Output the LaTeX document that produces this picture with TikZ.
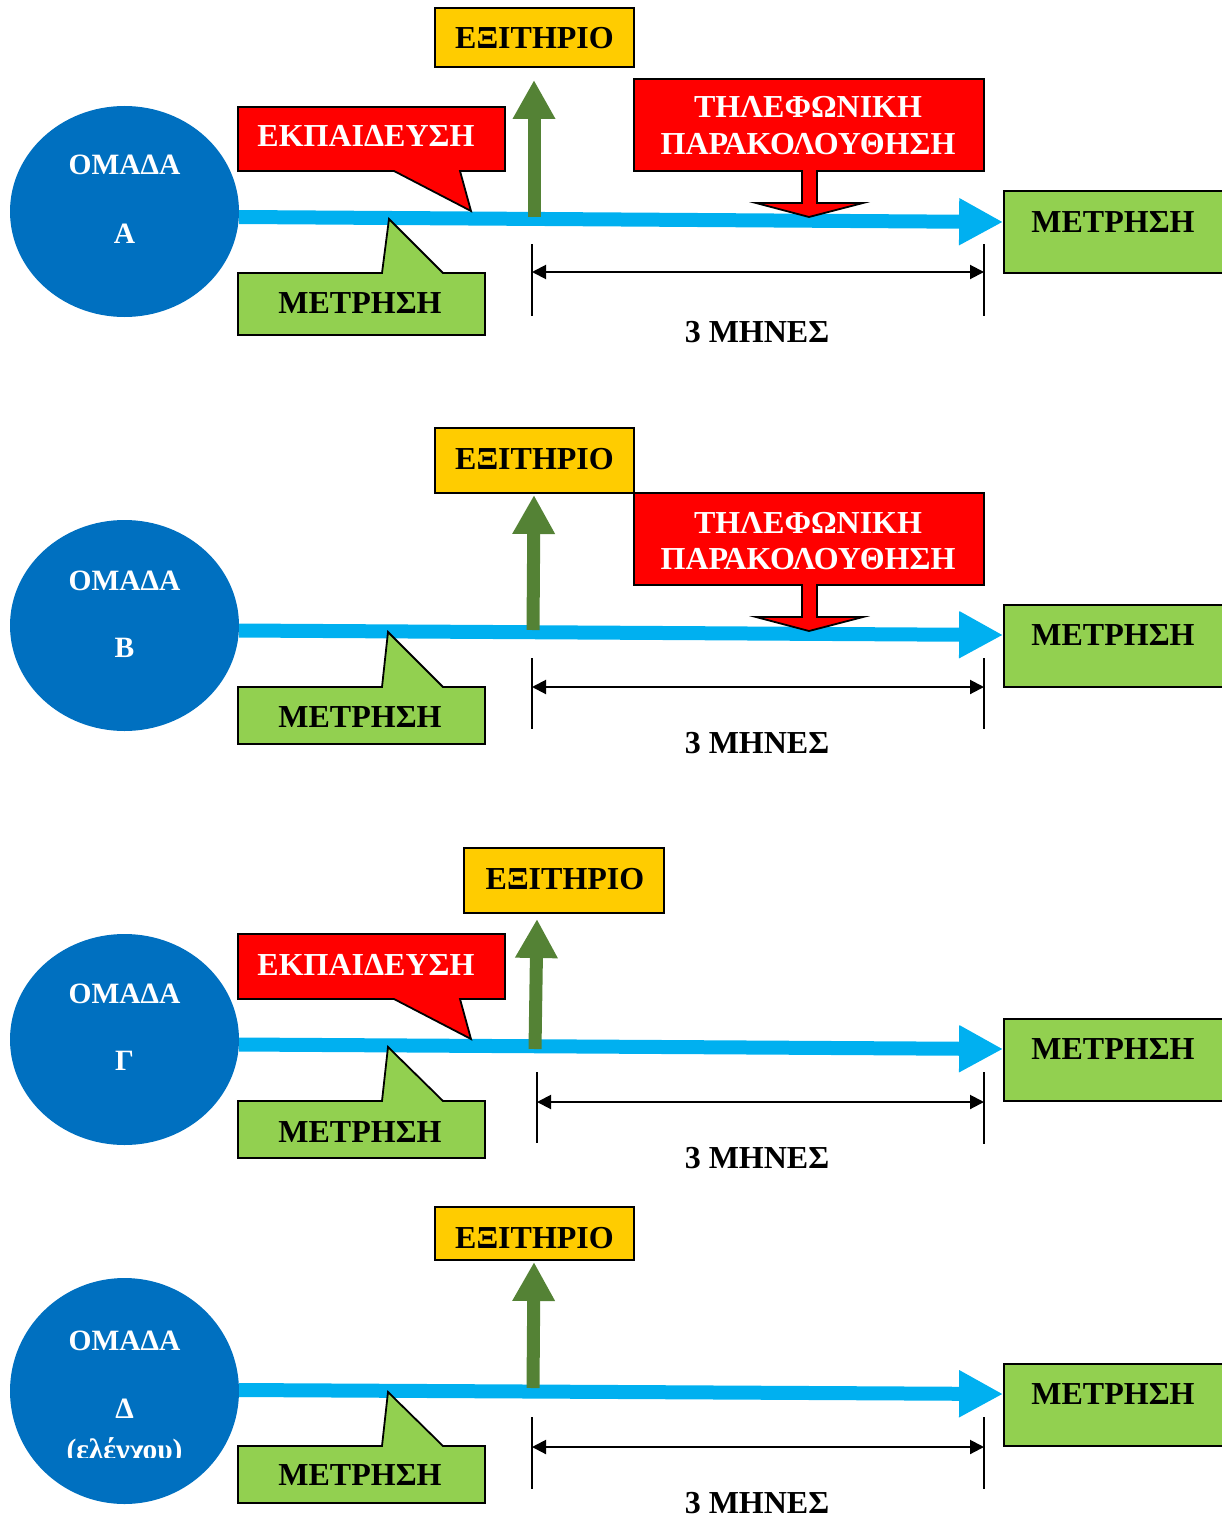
\documentclass[tikz,border=0pt]{standalone}
\usepackage{fontspec}
\setmainfont{Liberation Serif}
\usetikzlibrary{arrows.meta,shapes.geometric}
\definecolor{grpblue}{HTML}{0070C0}
\definecolor{flowblue}{HTML}{00B0F0}
\definecolor{exitgreen}{HTML}{548235}
\definecolor{boxgreen}{HTML}{92D050}
\definecolor{boxyellow}{HTML}{FFCC00}
\definecolor{boxred}{HTML}{FF0000}
\begin{document}
\begin{tikzpicture}[x=1pt,y=-1pt,
  group/.style={ellipse,fill=grpblue,inner sep=0pt,minimum width=229pt,minimum height=211pt},
  grptxt/.style={text=white,font=\fontsize{29.5}{35}\selectfont\bfseries,anchor=base,inner sep=0pt},
  bigtxt/.style={text=black,font=\fontsize{32}{38}\selectfont\bfseries,anchor=base,inner sep=0pt},
  whitetxt/.style={bigtxt,text=white},
  exitbox/.style={rectangle,draw=black,line width=1.8pt,fill=boxyellow,inner sep=0pt,minimum width=199pt},
  measbox/.style={rectangle,draw=black,line width=1.8pt,fill=boxgreen,inner sep=0pt,minimum width=220pt,minimum height=82pt},
  redcall/.style={draw=black,line width=1.8pt,fill=boxred,line join=miter},
  greencall/.style={draw=black,line width=1.8pt,fill=boxgreen,line join=miter},
  flow/.style={draw=flowblue,line width=14pt,-{Triangle[length=44pt,width=44pt]}},
  exitarrow/.style={draw=exitgreen,line width=13pt,-{Triangle[length=39pt,width=40pt]}},
  dimline/.style={draw=black,line width=2pt,{Triangle[length=14pt,width=14pt]}-{Triangle[length=14pt,width=14pt]}},
  tickline/.style={draw=black,line width=1.5pt}
]
\useasboundingbox (0,0) rectangle (1222,1517);

% ---------------- Group A ----------------
\node[group] (cA) at (124.5,211.5) {};
\node[grptxt] (tA1) at (124.5,175) {ΟΜΑΔΑ};
\node[grptxt] (tA2) at (124.5,243) {Α};
\node[measbox] (mA) at (1114,232) {};
\node[bigtxt] (mAt) at (1113,232) {ΜΕΤΡΗΣΗ};
\draw[flow] ([yshift=-5.5pt]cA.east) -- ([yshift=10pt]mA.west);
\node[exitbox,minimum height=59pt] (xA) at (534.5,37.5) {};
\node[bigtxt] (xAt) at (534.5,49) {ΕΞΙΤΗΡΙΟ};
\coordinate (gA0) at (534,217);
\coordinate (gA1) at (534,80);
\draw[exitarrow] (gA0) -- (gA1);
\path[redcall] (238,107) -- (505,107) -- (505,171) -- (460,171) -- (471,211) -- (394,171) -- (238,171) -- cycle;
\node[whitetxt] (eA) at (366,147) {ΕΚΠΑΙΔΕΥΣΗ};
\path[redcall] (634,79) -- (984,79) -- (984,171) -- (817,171) -- (817,203) -- (863,203) -- (809,217) -- (756,203) -- (802,203) -- (802,171) -- (634,171) -- cycle;
\node[whitetxt] (pA1) at (808,118) {ΤΗΛΕΦΩΝΙΚΗ};
\node[whitetxt] (pA2) at (808,155) {ΠΑΡΑΚΟΛΟΥΘΗΣΗ};
\path[greencall] (238,273) -- (382,273) -- (389,219) -- (443,273) -- (485,273) -- (485,335) -- (238,335) -- cycle;
\node[bigtxt] (bA) at (360,313) {ΜΕΤΡΗΣΗ};
\coordinate (dlA) at (532,272);
\coordinate (drA) at (984,272);
\draw[tickline] (532,244) -- (532,316);
\draw[tickline] (984,244) -- (984,316);
\draw[dimline] (dlA) -- (drA);
\node[bigtxt] (nA) at (757,342) {3 ΜΗΝΕΣ};

% ---------------- Group B ----------------
\node[group] (cB) at (124.5,625.5) {};
\node[grptxt] (tB1) at (124.5,590) {ΟΜΑΔΑ};
\node[grptxt] (tB2) at (124.5,657) {Β};
\node[measbox] (mB) at (1114,646) {};
\node[bigtxt] (mBt) at (1113,645) {ΜΕΤΡΗΣΗ};
\draw[flow] ([yshift=-5pt]cB.east) -- ([yshift=11pt]mB.west);
\node[exitbox,minimum height=65pt] (xB) at (534.5,460.5) {};
\node[bigtxt] (xBt) at (534.5,469) {ΕΞΙΤΗΡΙΟ};
\coordinate (gB0) at (533,630);
\coordinate (gB1) at (534,495);
\draw[exitarrow] (gB0) -- (gB1);
\path[redcall] (634,493) -- (984,493) -- (984,585) -- (817,585) -- (817,617) -- (863,617) -- (809,631) -- (756,617) -- (802,617) -- (802,585) -- (634,585) -- cycle;
\node[whitetxt] (pB1) at (808,533) {ΤΗΛΕΦΩΝΙΚΗ};
\node[whitetxt] (pB2) at (808,569) {ΠΑΡΑΚΟΛΟΥΘΗΣΗ};
\path[greencall] (238,687) -- (382,687) -- (388,632) -- (443,687) -- (485,687) -- (485,744) -- (238,744) -- cycle;
\node[bigtxt] (bB) at (360,727) {ΜΕΤΡΗΣΗ};
\coordinate (dlB) at (532,687);
\coordinate (drB) at (984,687);
\draw[tickline] (532,658) -- (532,729);
\draw[tickline] (984,658) -- (984,729);
\draw[dimline] (dlB) -- (drB);
\node[bigtxt] (nB) at (757,753) {3 ΜΗΝΕΣ};

% ---------------- Group C ----------------
\node[group] (cC) at (124.5,1039.5) {};
\node[grptxt] (tC1) at (124.5,1003) {ΟΜΑΔΑ};
\node[grptxt] (tC2) at (124.5,1070) {Γ};
\node[measbox] (mC) at (1114,1060) {};
\node[bigtxt] (mCt) at (1113,1059) {ΜΕΤΡΗΣΗ};
\draw[flow] ([yshift=-5pt]cC.east) -- ([yshift=11pt]mC.west);
\node[exitbox,minimum width=200pt,minimum height=65pt] (xC) at (564,880.5) {};
\node[bigtxt] (xCt) at (565,889) {ΕΞΙΤΗΡΙΟ};
\coordinate (gC0) at (535,1049);
\coordinate (gC1) at (537,919);
\draw[exitarrow] (gC0) -- (gC1);
\path[redcall] (238,934) -- (505,934) -- (505,999) -- (460,999) -- (471,1039) -- (394,999) -- (238,999) -- cycle;
\node[whitetxt] (eC) at (366,975) {ΕΚΠΑΙΔΕΥΣΗ};
\path[greencall] (238,1101) -- (382,1101) -- (388,1047) -- (443,1101) -- (485,1101) -- (485,1158) -- (238,1158) -- cycle;
\node[bigtxt] (bC) at (360,1142) {ΜΕΤΡΗΣΗ};
\coordinate (dlC) at (537,1102);
\coordinate (drC) at (984,1102);
\draw[tickline] (537,1072) -- (537,1143);
\draw[tickline] (984,1072) -- (984,1144);
\draw[dimline] (dlC) -- (drC);
\node[bigtxt] (nC) at (757,1168) {3 ΜΗΝΕΣ};

% ---------------- Group D (control) ----------------
\node[group,minimum height=226pt] (cD) at (124.5,1391) {};
\node[grptxt] (tD1) at (124.5,1350) {ΟΜΑΔΑ};
\node[grptxt] (tD2) at (124.5,1418) {Δ};
\begin{scope}
  \clip (0,1430) rectangle (240,1457);
  \node[grptxt] (tD3) at (124.5,1459) {(ελέγχου)};
\end{scope}
\node[measbox] (mD) at (1114,1405) {};
\node[bigtxt] (mDt) at (1113,1404) {ΜΕΤΡΗΣΗ};
\draw[flow] ([yshift=1pt]cD.east) -- ([yshift=11pt]mD.west);
\node[exitbox,minimum height=53pt] (xD) at (534.5,1233.5) {};
\node[bigtxt] (xDt) at (534.5,1248) {ΕΞΙΤΗΡΙΟ};
\coordinate (gD0) at (533,1388);
\coordinate (gD1) at (534,1262);
\draw[exitarrow] (gD0) -- (gD1);
\path[greencall] (238,1446) -- (382,1446) -- (388,1392) -- (443,1446) -- (485,1446) -- (485,1503) -- (238,1503) -- cycle;
\node[bigtxt] (bD) at (360,1485) {ΜΕΤΡΗΣΗ};
\coordinate (dlD) at (532,1447);
\coordinate (drD) at (984,1447);
\draw[tickline] (532,1417) -- (532,1489);
\draw[tickline] (984,1417) -- (984,1489);
\draw[dimline] (dlD) -- (drD);
\node[bigtxt] (nD) at (757,1513) {3 ΜΗΝΕΣ};
\end{tikzpicture}
\end{document}
